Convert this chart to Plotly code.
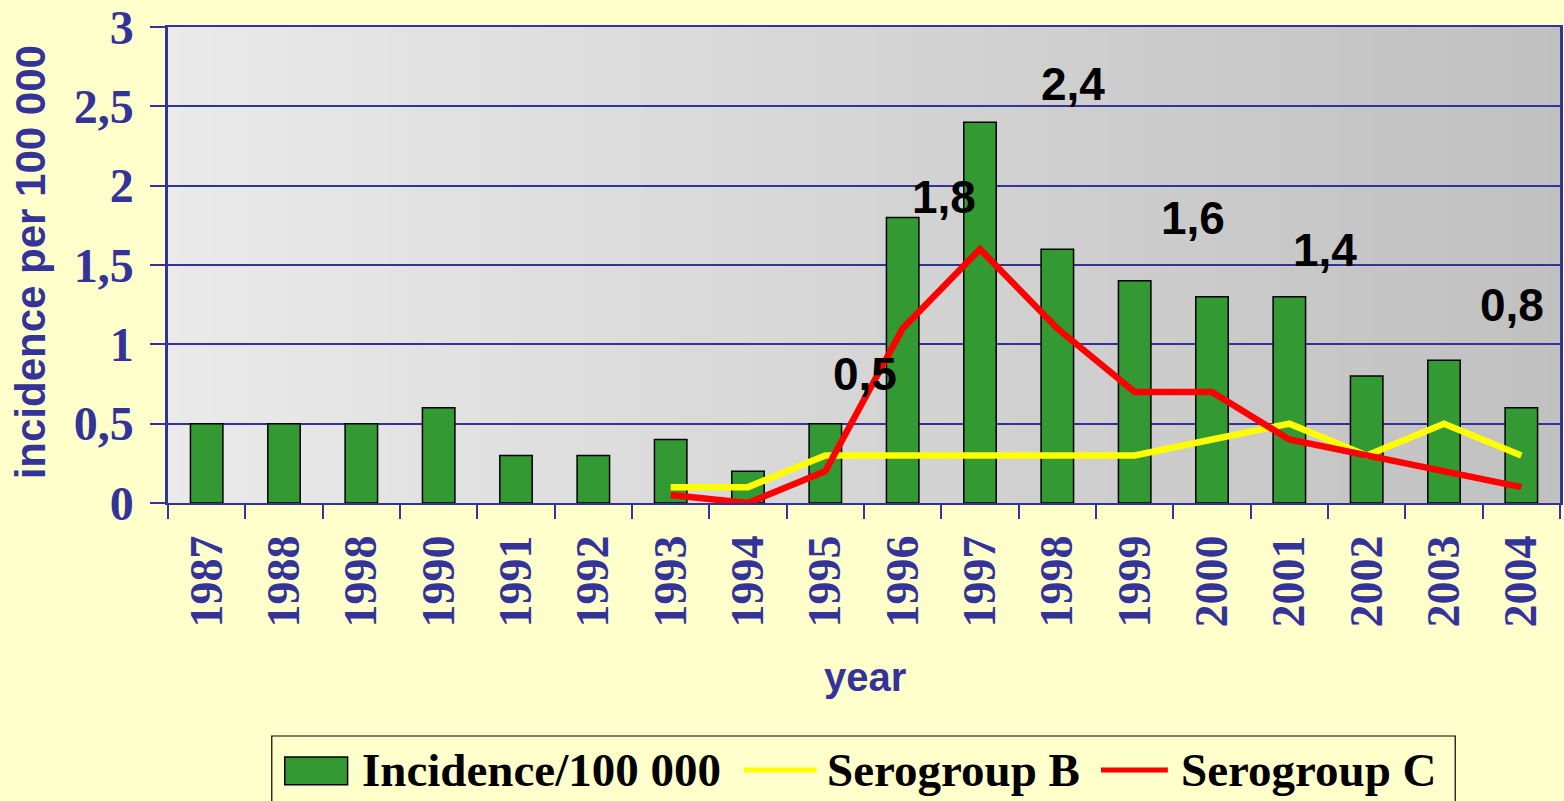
import plotly.graph_objects as go

# ---------------- data ----------------
years = ["1987", "1988", "1998", "1990", "1991", "1992", "1993", "1994", "1995",
         "1996", "1997", "1998", "1999", "2000", "2001", "2002", "2003", "2004"]
incidence = [0.5, 0.5, 0.5, 0.6, 0.3, 0.3, 0.4, 0.2, 0.5,
             1.8, 2.4, 1.6, 1.4, 1.3, 1.3, 0.8, 0.9, 0.6]
serogroup_b = [None, None, None, None, None, None, 0.1, 0.1, 0.3,
               0.3, 0.3, 0.3, 0.3, 0.4, 0.5, 0.3, 0.5, 0.3]
serogroup_c = [None, None, None, None, None, None, 0.05, 0.0, 0.2,
               1.1, 1.6, 1.1, 0.7, 0.7, 0.4, 0.3, 0.2, 0.1]
y_tick_values = [0, 0.5, 1, 1.5, 2, 2.5, 3]
y_tick_labels = ["0", "0,5", "1", "1,5", "2", "2,5", "3"]
value_labels = ["2,4", "1,8", "1,6", "1,4", "0,8", "0,5"]

# ---------------- styles / positions ----------------
BG = "#FFFFCC"
NAVY = "#333399"
GREEN = "#339933"
label_pos = [(11.20, 2.64), (9.53, 1.93), (12.75, 1.795), (14.455, 1.594),
             (16.88, 1.249), (8.51, 0.81)]

W, H = 1564, 801
L, R, T, B = 168, 1, 25, 298
PW = W - L - R
PH = H - T - B


def px(xp):
    return (xp - L) / PW


def py(yp):
    return (H - B - yp) / PH


xpos = list(range(len(years)))

fig = go.Figure()
fig.add_trace(go.Bar(
    x=xpos, y=incidence, name="Incidence/100 000",
    marker=dict(color=GREEN, line=dict(color="black", width=1.5)),
    width=0.42, showlegend=False))
fig.add_trace(go.Scatter(
    x=xpos, y=serogroup_b, name="Serogroup B", mode="lines",
    line=dict(color="#FFFF00", width=6.5), showlegend=False))
fig.add_trace(go.Scatter(
    x=xpos, y=serogroup_c, name="Serogroup C", mode="lines",
    line=dict(color="#FF0000", width=6.5), showlegend=False))

shapes = []
# horizontal gradient background of the plot area
N = 120
c0, c1 = 234, 192
for i in range(N):
    c = round(c0 + (c1 - c0) * (i + 0.5) / N)
    shapes.append(dict(type="rect", xref="x domain", yref="y domain",
                       x0=i / N, x1=(i + 1.6) / N if i < N - 1 else 1.0,
                       y0=0, y1=1, layer="below", line=dict(width=0),
                       fillcolor=f"rgb({c},{c},{c})"))

# manual legend
shapes.append(dict(type="rect", xref="paper", yref="paper",
                   x0=px(272), x1=px(1458), y0=py(808), y1=py(737),
                   line=dict(color="black", width=1.2), fillcolor=BG, layer="above"))
shapes.append(dict(type="rect", xref="paper", yref="paper",
                   x0=px(285), x1=px(348), y0=py(786), y1=py(758),
                   line=dict(color="black", width=1.5), fillcolor=GREEN, layer="above"))
shapes.append(dict(type="line", xref="paper", yref="paper",
                   x0=px(745), x1=px(818), y0=py(771), y1=py(771),
                   line=dict(color="#FFFF00", width=5), layer="above"))
shapes.append(dict(type="line", xref="paper", yref="paper",
                   x0=px(1103), x1=px(1170), y0=py(771), y1=py(771),
                   line=dict(color="#FF0000", width=5), layer="above"))

annotations = []
for txt, (ax, ay) in zip(value_labels, label_pos):
    annotations.append(dict(x=ax, y=ay, xref="x", yref="y", text=txt,
                            showarrow=False, xanchor="center", yanchor="middle",
                            font=dict(family="Liberation Sans", size=46,
                                      color="black", weight="bold")))

legend_font = dict(family="Liberation Serif", size=47, color="black", weight="bold")
for txt, xl in [("Incidence/100 000", 360), ("Serogroup B", 826), ("Serogroup C", 1181)]:
    annotations.append(dict(x=px(xl), y=py(771), xref="paper", yref="paper",
                            text=txt, showarrow=False, xanchor="left",
                            yanchor="middle", font=legend_font))

# axis titles
annotations.append(dict(x=px(30), y=py(261), xref="paper", yref="paper",
                        text="incidence per 100 000", textangle=-90,
                        showarrow=False, xanchor="center", yanchor="middle",
                        font=dict(family="Liberation Sans", size=42,
                                  color=NAVY, weight="bold")))
annotations.append(dict(x=px(867), y=py(678), xref="paper", yref="paper",
                        text="year", showarrow=False, xanchor="center",
                        yanchor="middle",
                        font=dict(family="Liberation Sans", size=40,
                                  color=NAVY, weight="bold")))

fig.update_layout(
    width=W, height=H,
    margin=dict(l=L, r=R, t=T, b=B, pad=0),
    paper_bgcolor=BG, plot_bgcolor="rgba(0,0,0,0)",
    shapes=shapes, annotations=annotations,
    showlegend=False, bargap=0.5,
)
fig.update_xaxes(
    range=[-0.5, len(years) - 0.5],
    tickmode="array", tickvals=xpos, ticktext=years, tickangle=-90,
    ticks="", ticklabelstandoff=12,
    tickfont=dict(family="Liberation Serif", size=46, color=NAVY, weight="bold"),
    showgrid=False, zeroline=False,
    showline=True, linecolor=NAVY, linewidth=2, mirror=True,
    minor=dict(tickmode="linear", tick0=-0.5, dtick=1, ticks="outside",
               ticklen=14, tickwidth=2, tickcolor=NAVY, showgrid=False),
)
fig.update_yaxes(
    range=[0, 3], tickmode="array", tickvals=y_tick_values, ticktext=y_tick_labels,
    ticks="outside", ticklen=15, tickwidth=2, tickcolor=NAVY,
    ticklabelstandoff=7, ticklabeloverflow="allow",
    tickfont=dict(family="Liberation Serif", size=48, color=NAVY, weight="bold"),
    showgrid=True, gridcolor=NAVY, gridwidth=1.5, zeroline=False,
    showline=True, linecolor=NAVY, linewidth=2.5, mirror=True,
)

fig.write_html(
    "out.html",
    config={"displayModeBar": False},
    post_script="document.body.style.margin='0px';"
                "document.body.style.overflow='hidden';"
                "document.documentElement.style.overflow='hidden';",
)
